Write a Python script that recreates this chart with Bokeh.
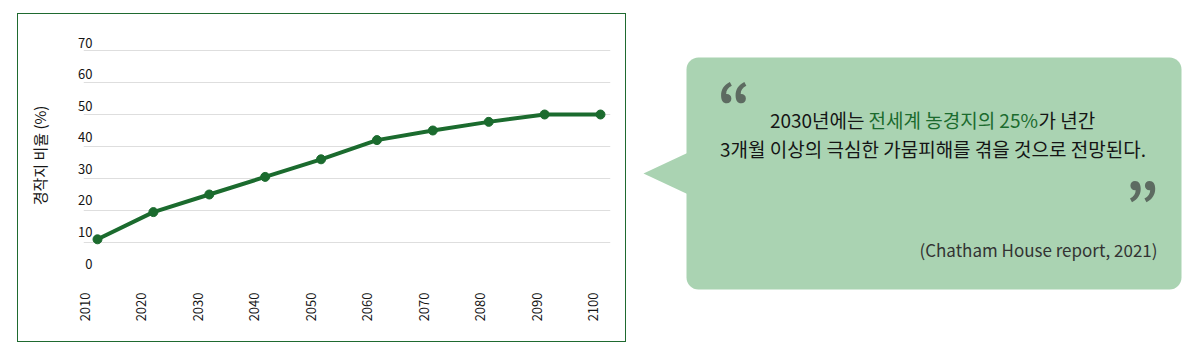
import math
from bokeh.plotting import figure
from bokeh.layouts import row
from bokeh.models import Range1d, LinearAxis, FixedTicker, Grid
from bokeh.core.properties import value
from bokeh.embed import file_html
from bokeh.resources import INLINE

# ---- data ----
years = [2010, 2020, 2030, 2040, 2050, 2060, 2070, 2080, 2090, 2100]
share = [11, 19.5, 25, 30.5, 36, 42, 45, 47.7, 50, 50]
y_ticks = [0, 10, 20, 30, 40, 50, 60, 70]
grid_ticks = [10, 20, 30, 40, 50, 60, 70]
y_title = "경작지 비율 (%)"
quote_line1 = ["2030년에는", "전세계 농경지의 25%", "가 년간"]
quote_line2 = "3개월 이상의 극심한 가뭄피해를 겪을 것으로 전망된다."
source = "(Chatham House report, 2021)"

FONT = "Noto Sans CJK KR"
GREEN = "#1b6b2e"
TEXT = "#151515"

# ---------------- left: chart ----------------
LW, LH = 609, 329
p = figure(width=LW, height=LH, output_backend="svg", toolbar_location=None,
           x_range=Range1d(2007.495, 2101.79), y_range=Range1d(0.625, 73.75),
           x_axis_location=None, y_axis_location=None,
           min_border_left=65, min_border_right=17,
           min_border_top=24, min_border_bottom=71,
           background_fill_color="white", border_fill_color="white",
           margin=(13, 0, 0, 17), frame_align=False,
           styles={"border": "1px solid #1f6a30"})
p.outline_line_color = None
p.xgrid.visible = False
p.ygrid.visible = False

p.extra_x_ranges = {"lab": Range1d(2009.735, 2103.01)}
p.extra_y_ranges = {"lab": Range1d(-2.85, 71.27)}

grid = Grid(dimension=1, ticker=FixedTicker(ticks=grid_ticks),
            grid_line_color="#dedede", grid_line_width=1)
p.add_layout(grid, "center")

yax = LinearAxis(y_range_name="lab", ticker=FixedTicker(ticks=y_ticks),
                 axis_label=y_title)
yax.axis_line_color = None
yax.major_tick_line_color = None
yax.minor_tick_line_color = None
yax.major_tick_out = 0
yax.major_tick_in = 0
yax.major_label_standoff = -9
yax.major_label_text_font = FONT
yax.major_label_text_font_size = "13px"
yax.major_label_text_color = TEXT
yax.axis_label_standoff = 25
yax.axis_label_text_font = FONT
yax.axis_label_text_font_size = "15px"
yax.axis_label_text_font_style = "normal"
yax.axis_label_text_color = TEXT
p.add_layout(yax, "left")

xax = LinearAxis(x_range_name="lab", ticker=FixedTicker(ticks=years))
xax.axis_line_color = None
xax.major_tick_line_color = None
xax.minor_tick_line_color = None
xax.major_tick_out = 0
xax.major_tick_in = 0
xax.major_label_standoff = 20
xax.major_label_orientation = math.pi / 2
xax.major_label_text_font = FONT
xax.major_label_text_font_size = "13px"
xax.major_label_text_color = TEXT
p.add_layout(xax, "below")

p.line(years, share, line_color=GREEN, line_width=4)
p.scatter(years, share, size=9, fill_color=GREEN, line_color=GREEN)

# ---------------- right: callout ----------------
RW, RH = 556, 346
q = figure(width=RW, height=RH, output_backend="svg", toolbar_location=None,
           x_range=Range1d(628, 628 + RW), y_range=Range1d(RH, 0),
           x_axis_location=None, y_axis_location=None,
           min_border=0, min_border_left=0, min_border_right=0,
           min_border_top=0, min_border_bottom=0, frame_align=False,
           background_fill_color="white", border_fill_color="white")
q.outline_line_color = None
q.xgrid.visible = False
q.ygrid.visible = False

BOX = "#aad3b2"
q.patch([645, 692, 692], [173, 151, 195], fill_color=BOX, line_color=None)
q.quad(left=[688], right=[1183], top=[57], bottom=[289], fill_color=BOX,
       line_color=None, border_radius=12)

QC = "#5d6b61"
q.text(x=[719], y=[101], text=["\u201c"], text_font=value(FONT),
       text_font_style="bold", text_font_size="58px", text_color=QC,
       text_align="left", text_baseline="alphabetic")
q.text(x=[1127], y=[201], text=["\u201d"], text_font=value(FONT),
       text_font_style="bold", text_font_size="58px", text_color=QC,
       text_align="left", text_baseline="alphabetic")

def lab(x, y, t, color=TEXT, align="left", size="19px"):
    q.text(x=[x], y=[y], text=[t], text_font=value(FONT), text_font_size=size,
           text_color=color, text_align=align, text_baseline="middle")

lab(866, 119, quote_line1[0], align="right")
lab(870, 119, quote_line1[1], color=GREEN)
lab(1040, 119, quote_line1[2])
lab(934.5, 148, quote_line2, align="center")
lab(1159, 249, source, color="#333333", align="right", size="17px")

layout = row(p, q, spacing=0)
open("out.html", "w").write(file_html(layout, INLINE))
